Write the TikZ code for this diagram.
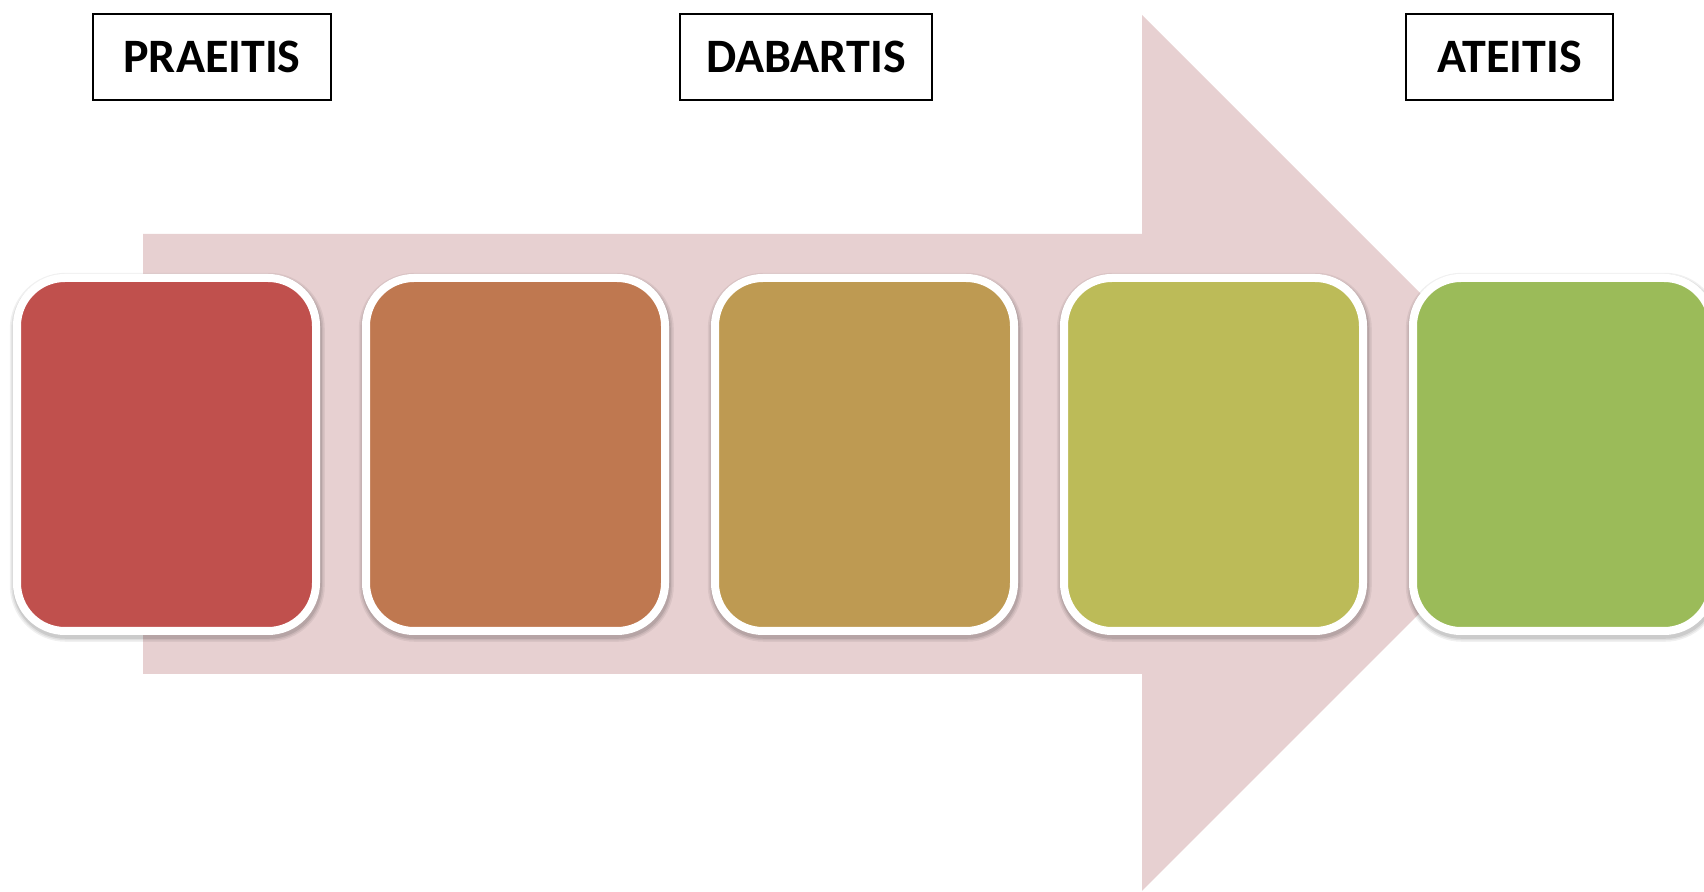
\documentclass[tikz,border=0pt]{standalone}
\usepackage{fontspec}
\setmainfont{Carlito}
\definecolor{arrowpink}{HTML}{E7D0D1}
\definecolor{stageA}{HTML}{C0504D}
\definecolor{stageB}{HTML}{BF7850}
\definecolor{stageC}{HTML}{BE9A52}
\definecolor{stageD}{HTML}{BCBB58}
\definecolor{stageE}{HTML}{9BBB59}
\tikzset{
	timelabel/.style={draw=black, line width=1pt, fill=white, inner sep=0pt, minimum height=43pt, font=\fontsize{24}{28}\selectfont\bfseries},
	stagebox/.style={draw=white, line width=4pt, rounded corners=24pt, inner sep=0pt, minimum width=149.5pt, minimum height=176.5pt,
		preaction={draw=black, opacity=0.06, line width=8pt, transform canvas={shift={(0.4pt,-1.4pt)}}},
		preaction={draw=black, opacity=0.07, line width=6.5pt, transform canvas={shift={(0.4pt,-1.4pt)}}},
		preaction={draw=black, opacity=0.09, line width=5pt, transform canvas={shift={(0.4pt,-1.4pt)}}}}
}

\begin{document}
\begin{tikzpicture}[x=0.5pt, y=0.5pt]
			%%%%% START %%%%%
			
			\useasboundingbox (0, 0) rectangle (1704, 892);
			
			\fill[arrowpink] (143, 218) -- (1142, 218) -- (1142, 1) -- (1580, 439) -- (1142, 877) -- (1142, 658) -- (143, 658) -- cycle;
			
			\foreach \i/\col in {0/stageA, 1/stageB, 2/stageC, 3/stageD, 4/stageE}
				\node[stagebox, fill=\col] (stage\i) at (166.5 + 349*\i, 437.5) {};
			
			\node[timelabel, minimum width=119pt] (past) at (212, 835) {PRAEITIS};
			\node[timelabel, minimum width=126pt] (present) at (806, 835) {DABARTIS};
			\node[timelabel, minimum width=103.5pt] (future) at (1509.5, 835) {ATEITIS};
			
			%%%%% END %%%%%
\end{tikzpicture}
\end{document}
